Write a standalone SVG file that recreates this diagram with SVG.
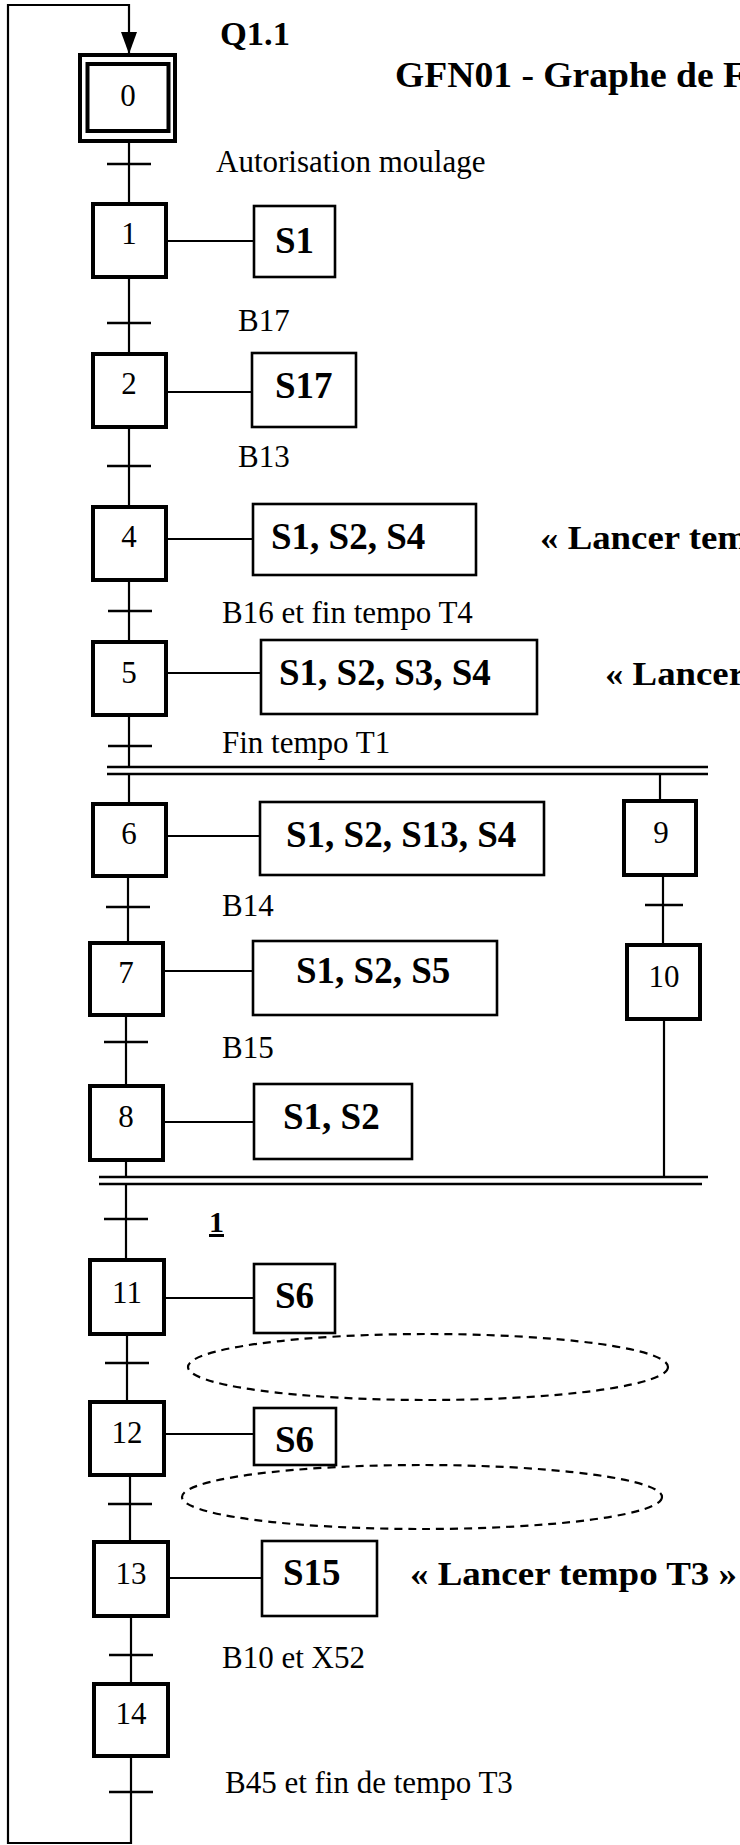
<svg xmlns="http://www.w3.org/2000/svg" width="740" height="1845" viewBox="0 0 740 1845">
<style>
.bg{fill:#fff}
.step{fill:#fff;stroke:#000;stroke-width:4}
.act{fill:#fff;stroke:#000;stroke-width:2.6}
.ln{fill:none;stroke:#000;stroke-width:2.2}
.tk{fill:none;stroke:#000;stroke-width:2.6}
.dbl{fill:none;stroke:#000;stroke-width:2.6}
.ell{fill:none;stroke:#000;stroke-width:2.2;stroke-dasharray:8 6}
.num{font-family:"Liberation Serif","Times New Roman",serif;font-size:31px;text-anchor:middle;fill:#000}
.lab{font-family:"Liberation Serif","Times New Roman",serif;font-size:31px;fill:#000}
.actt{font-family:"Liberation Serif","Times New Roman",serif;font-size:37px;font-weight:bold;fill:#000}
.big{font-family:"Liberation Serif","Times New Roman",serif;font-weight:bold;fill:#000}
</style>
<defs>
<marker id="arr" viewBox="0 0 22 16" refX="22" refY="8" markerWidth="22" markerHeight="16" markerUnits="userSpaceOnUse" orient="auto">
<path d="M0,0 L22,8 L0,16 Z" fill="#000"/>
</marker>
</defs>
<rect class="bg" x="0" y="0" width="740" height="1845"/>

<g id="connectors">
<path class="ln" d="M131,1758 L131,1843 L8,1843 L8,5 L129,5 L129,54" marker-end="url(#arr)"/>
<line class="ln" x1="129" y1="141" x2="129" y2="202"/>
<line class="ln" x1="129" y1="279" x2="129" y2="352"/>
<line class="ln" x1="129" y1="429" x2="129" y2="505"/>
<line class="ln" x1="129" y1="582" x2="129" y2="640"/>
<line class="ln" x1="129" y1="717" x2="129" y2="767"/>
<line class="ln" x1="129" y1="774" x2="129" y2="802"/>
<line class="ln" x1="128" y1="878" x2="128" y2="941"/>
<line class="ln" x1="126" y1="1017" x2="126" y2="1084"/>
<line class="ln" x1="126" y1="1162" x2="126" y2="1177"/>
<line class="ln" x1="126" y1="1183" x2="126" y2="1258"/>
<line class="ln" x1="127" y1="1336" x2="127" y2="1400"/>
<line class="ln" x1="130" y1="1477" x2="130" y2="1540"/>
<line class="ln" x1="131" y1="1618" x2="131" y2="1682"/>
<line class="ln" x1="660" y1="774" x2="660" y2="799"/>
<line class="ln" x1="663" y1="877" x2="663" y2="943"/>
<line class="ln" x1="664" y1="1021" x2="664" y2="1177"/>
<line class="dbl" x1="107" y1="767" x2="708" y2="767"/>
<line class="dbl" x1="107" y1="774" x2="708" y2="774"/>
<line class="dbl" x1="99" y1="1177" x2="708" y2="1177"/>
<line class="dbl" x1="99" y1="1184" x2="702" y2="1184"/>
<line class="tk" x1="107" y1="164" x2="151" y2="164"/>
<line class="tk" x1="107" y1="323" x2="151" y2="323"/>
<line class="tk" x1="107" y1="466" x2="151" y2="466"/>
<line class="tk" x1="108" y1="611" x2="152" y2="611"/>
<line class="tk" x1="108" y1="746" x2="152" y2="746"/>
<line class="tk" x1="106" y1="907" x2="150" y2="907"/>
<line class="tk" x1="104" y1="1042" x2="148" y2="1042"/>
<line class="tk" x1="104" y1="1219" x2="148" y2="1219"/>
<line class="tk" x1="105" y1="1363" x2="149" y2="1363"/>
<line class="tk" x1="108" y1="1504" x2="152" y2="1504"/>
<line class="tk" x1="109" y1="1655" x2="153" y2="1655"/>
<line class="tk" x1="109" y1="1792" x2="153" y2="1792"/>
<line class="tk" x1="645" y1="905" x2="683" y2="905"/>
<line class="ln" x1="168" y1="241" x2="253" y2="241"/>
<line class="ln" x1="168" y1="392" x2="251" y2="392"/>
<line class="ln" x1="168" y1="539" x2="252" y2="539"/>
<line class="ln" x1="168" y1="673" x2="260" y2="673"/>
<line class="ln" x1="168" y1="836" x2="259" y2="836"/>
<line class="ln" x1="165" y1="971" x2="252" y2="971"/>
<line class="ln" x1="165" y1="1122" x2="253" y2="1122"/>
<line class="ln" x1="166" y1="1298" x2="253" y2="1298"/>
<line class="ln" x1="166" y1="1434" x2="253" y2="1434"/>
<line class="ln" x1="170" y1="1578" x2="261" y2="1578"/>
</g>

<g id="ellipses">
<ellipse class="ell" cx="428" cy="1367" rx="240" ry="33"/>
<ellipse class="ell" cx="422" cy="1497" rx="240" ry="32"/>
</g>

<g id="step0">
<rect class="step" x="80" y="55" width="95" height="86"/>
<rect class="step" x="87.5" y="64" width="81" height="67"/>
<text class="num" x="128" y="106">0</text>
</g>
<g id="step1"><rect class="step" x="93" y="204" width="73" height="73"/><text class="num" x="129" y="244">1</text></g>
<g id="step2"><rect class="step" x="93" y="354" width="73" height="73"/><text class="num" x="129" y="394">2</text></g>
<g id="step4"><rect class="step" x="93" y="507" width="73" height="73"/><text class="num" x="129" y="547">4</text></g>
<g id="step5"><rect class="step" x="93" y="642" width="73" height="73"/><text class="num" x="129" y="683">5</text></g>
<g id="step6"><rect class="step" x="93" y="804" width="73" height="72"/><text class="num" x="129" y="844">6</text></g>
<g id="step7"><rect class="step" x="90" y="943" width="73" height="72"/><text class="num" x="126" y="983">7</text></g>
<g id="step8"><rect class="step" x="90" y="1086" width="73" height="74"/><text class="num" x="126" y="1127">8</text></g>
<g id="step9"><rect class="step" x="624" y="801" width="72" height="74"/><text class="num" x="661" y="843">9</text></g>
<g id="step10"><rect class="step" x="627" y="945" width="73" height="74"/><text class="num" x="664" y="987">10</text></g>
<g id="step11"><rect class="step" x="90" y="1260" width="74" height="74"/><text class="num" x="127" y="1303">11</text></g>
<g id="step12"><rect class="step" x="90" y="1402" width="74" height="73"/><text class="num" x="127" y="1443">12</text></g>
<g id="step13"><rect class="step" x="94" y="1542" width="74" height="74"/><text class="num" x="131" y="1584">13</text></g>
<g id="step14"><rect class="step" x="94" y="1684" width="74" height="72"/><text class="num" x="131" y="1724">14</text></g>

<g id="act1"><rect class="act" x="254" y="206" width="81" height="71"/><text class="actt" x="275" y="253">S1</text></g>
<g id="act2"><rect class="act" x="252" y="353" width="104" height="74"/><text class="actt" x="275" y="398">S17</text></g>
<g id="act4"><rect class="act" x="253" y="504" width="223" height="71"/><text class="actt" x="271" y="549">S1, S2, S4</text></g>
<g id="act5"><rect class="act" x="261" y="640" width="276" height="74"/><text class="actt" x="279" y="685">S1, S2, S3, S4</text></g>
<g id="act6"><rect class="act" x="260" y="802" width="284" height="73"/><text class="actt" x="286" y="847">S1, S2, S13, S4</text></g>
<g id="act7"><rect class="act" x="253" y="941" width="244" height="74"/><text class="actt" x="296" y="983">S1, S2, S5</text></g>
<g id="act8"><rect class="act" x="254" y="1084" width="158" height="75"/><text class="actt" x="283" y="1129">S1, S2</text></g>
<g id="act11"><rect class="act" x="254" y="1264" width="81" height="69"/><text class="actt" x="275" y="1308">S6</text></g>
<g id="act12"><rect class="act" x="254" y="1408" width="82" height="57"/><text class="actt" x="275" y="1452">S6</text></g>
<g id="act13"><rect class="act" x="262" y="1541" width="115" height="75"/><text class="actt" x="283" y="1585">S15</text></g>

<g id="labels">
<text class="big" x="220" y="45" font-size="33" textLength="70" lengthAdjust="spacingAndGlyphs">Q1.1</text>
<text class="big" x="395" y="87" font-size="35" textLength="351" lengthAdjust="spacingAndGlyphs">GFN01 - Graphe de F</text>
<text class="lab" x="216" y="172">Autorisation moulage</text>
<text class="lab" x="238" y="331">B17</text>
<text class="lab" x="238" y="467">B13</text>
<text class="big" x="540" y="549" font-size="34" textLength="208" lengthAdjust="spacingAndGlyphs">« Lancer tem</text>
<text class="lab" x="222" y="623">B16 et fin tempo T4</text>
<text class="big" x="605" y="685" font-size="34" textLength="140" lengthAdjust="spacingAndGlyphs">« Lancer</text>
<text class="lab" x="222" y="753">Fin tempo T1</text>
<text class="lab" x="222" y="916">B14</text>
<text class="lab" x="222" y="1058">B15</text>
<text class="big" x="209" y="1232" font-size="30" text-decoration="underline">1</text>
<text class="big" x="410" y="1585" font-size="33" textLength="327" lengthAdjust="spacingAndGlyphs">« Lancer tempo T3 »</text>
<text class="lab" x="222" y="1668">B10 et X52</text>
<text class="lab" x="225" y="1793">B45 et fin de tempo T3</text>
</g>
</svg>
